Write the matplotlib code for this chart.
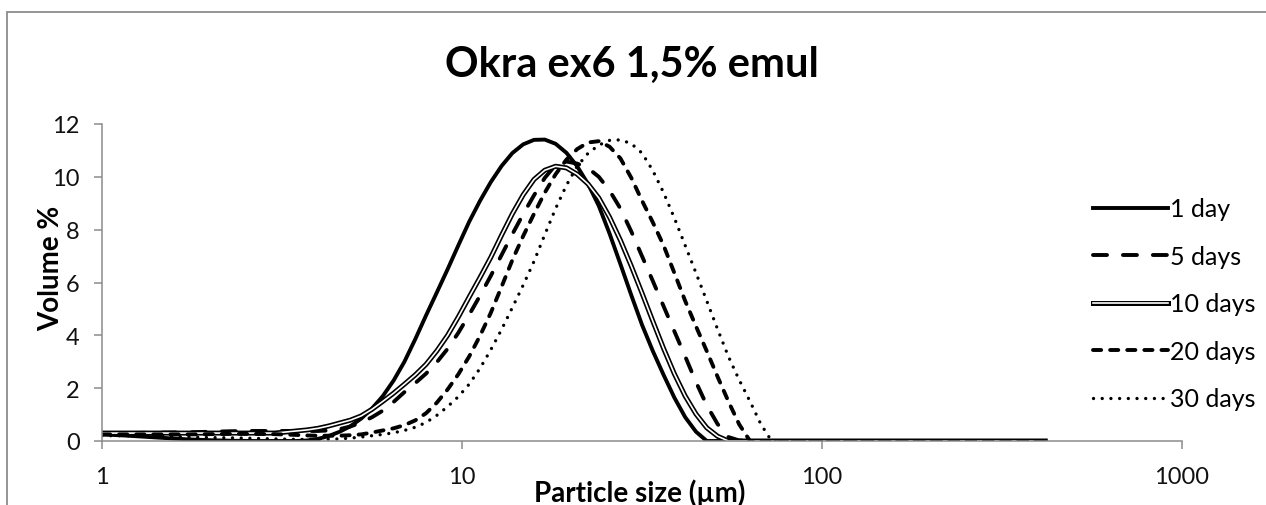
import matplotlib
matplotlib.use("Agg")
import matplotlib.pyplot as plt
from matplotlib.patches import Rectangle
from matplotlib.ticker import NullLocator

plt.rcParams['font.family'] = ['Lato', 'DejaVu Sans']

# particle size classes (µm), finer spacing where the peaks are
sizes = [1.00, 1.15, 1.32, 1.51, 1.74, 2.00, 2.29, 2.63, 3.02,
         3.467, 3.715, 3.981, 4.266, 4.571, 4.898, 5.248, 5.623, 6.026, 6.457,
         6.918, 7.413, 7.943, 8.511, 9.120, 9.772, 10.47, 11.22, 12.02, 12.88,
         13.80, 14.79, 15.85, 16.98, 18.20, 19.50, 20.89, 22.39, 23.99, 25.70,
         27.54, 29.51, 31.62, 33.88, 36.31, 38.90, 41.69, 44.67, 47.86, 51.29,
         54.95, 58.88, 63.10, 67.61, 72.44, 77.62, 83.18,
         95.50, 200.0, 416.9]

# volume % per storage time
day1 = [0.25, 0.21, 0.16, 0.11, 0.06, 0.03, 0.01, 0.0, 0.0,
        0.0, 0.02, 0.08, 0.19, 0.35, 0.56, 0.85, 1.23, 1.7, 2.29,
        3.0, 3.85, 4.75, 5.62, 6.5, 7.41, 8.3, 9.09, 9.8, 10.41,
        10.9, 11.23, 11.4, 11.41, 11.25, 10.91, 10.4, 9.73, 8.9, 7.85,
        6.7, 5.53, 4.4, 3.41, 2.5, 1.64, 0.9, 0.35, 0.0, 0.0,
        0.0, 0.0, 0.0, 0.0, 0.0, 0.0, 0.0,
        0.0, 0.0, 0.0]

day5 = [0.3, 0.3, 0.31, 0.32, 0.33, 0.35, 0.37, 0.38, 0.38,
        0.38, 0.38, 0.38, 0.40, 0.45, 0.55, 0.7, 0.9, 1.15, 1.48,
        1.85, 2.19, 2.55, 2.98, 3.49, 4.1, 4.78, 5.5, 6.25, 7.04,
        7.83, 8.59, 9.3, 9.96, 10.45, 10.58, 10.5, 10.33, 10.0, 9.48,
        8.8, 7.94, 7.0, 6.06, 5.1, 4.15, 3.2, 2.23, 1.35, 0.64,
        0.15, 0.02, 0.0, 0.0, 0.0, 0.0, 0.0,
        0.0, 0.0, 0.0]

day10 = [0.3, 0.3, 0.3, 0.3, 0.3, 0.3, 0.3, 0.3, 0.3,
         0.38, 0.42, 0.48, 0.57, 0.68, 0.79, 0.95, 1.2, 1.5, 1.81,
         2.15, 2.5, 2.9, 3.41, 4.0, 4.7, 5.45, 6.19, 6.95, 7.79,
         8.6, 9.32, 9.9, 10.25, 10.4, 10.34, 10.1, 9.73, 9.2, 8.47,
         7.6, 6.63, 5.6, 4.54, 3.5, 2.54, 1.7, 1.02, 0.5, 0.18,
         0.0, 0.0, 0.0, 0.0, 0.0, 0.0, 0.0,
         0.0, 0.0, 0.0]

day20 = [0.25, 0.25, 0.25, 0.25, 0.25, 0.26, 0.27, 0.27, 0.26,
         0.23, 0.21, 0.2, 0.2, 0.2, 0.22, 0.25, 0.32, 0.4, 0.48,
         0.6, 0.78, 1.05, 1.45, 1.95, 2.53, 3.2, 3.98, 4.85, 5.84,
         6.85, 7.76, 8.6, 9.4, 10.1, 10.65, 11.05, 11.3, 11.35, 11.14,
         10.7, 9.97, 9.1, 8.28, 7.4, 6.36, 5.3, 4.34, 3.4, 2.43,
         1.5, 0.63, 0.0, 0.0, 0.0, 0.0, 0.0,
         0.0, 0.0, 0.0]

day30 = [0.2, 0.2, 0.18, 0.17, 0.15, 0.13, 0.12, 0.1, 0.08,
         0.06, 0.06, 0.06, 0.07, 0.08, 0.11, 0.15, 0.2, 0.25, 0.31,
         0.4, 0.52, 0.7, 0.97, 1.3, 1.68, 2.15, 2.75, 3.45, 4.22,
         5.05, 5.9, 6.8, 7.81, 8.8, 9.68, 10.4, 10.89, 11.2, 11.38,
         11.4, 11.26, 10.9, 10.24, 9.4, 8.44, 7.4, 6.36, 5.3, 4.23,
         3.2, 2.31, 1.5, 0.64, 0.0, 0.0, 0.0,
         0.0, 0.0, 0.0]

labels = ['1 day', '5 days', '10 days', '20 days', '30 days']
xticks = [1, 10, 100, 1000]
yticks = [0, 2, 4, 6, 8, 10, 12]

W, H = 1266, 506
GREY = '#8c8c8c'
LW = 2.8

fig = plt.figure(figsize=(W / 100, H / 100), dpi=100)
ax = fig.add_axes([102 / W, 1 - 442 / H, 1080 / W, 317 / H])

l1, = ax.plot(sizes, day1, color='black', lw=LW, solid_joinstyle='round')
l5, = ax.plot(sizes, day5, color='black', lw=LW, ls=(0, (3.6, 4.1)),
              dash_capstyle='round')
# double line: thick black with a thin white core
l10a, = ax.plot(sizes, day10, color='black', lw=3.6, solid_joinstyle='round')
l10b, = ax.plot(sizes, day10, color='white', lw=1.2, solid_joinstyle='round')
l20, = ax.plot(sizes, day20, color='black', lw=LW, ls=(0, (2.1, 2.3)),
               dash_capstyle='round')
l30, = ax.plot(sizes, day30, color='black', lw=2.4, ls=(0, (0.01, 2.6)),
               dash_capstyle='round')

ax.set_xscale('log')
ax.set_xlim(1, 1000)
ax.set_ylim(0, 12)
ax.set_xticks(xticks)
ax.set_xticklabels([str(t) for t in xticks])
ax.xaxis.set_minor_locator(NullLocator())
ax.set_yticks(yticks)

for s in ['top', 'right']:
    ax.spines[s].set_visible(False)
for s in ['left', 'bottom']:
    ax.spines[s].set_color(GREY)
    ax.spines[s].set_linewidth(1.1)
ax.tick_params(direction='out', length=6, width=1.1, color=GREY,
               labelsize=17, labelcolor='#111111')
ax.tick_params(axis='y', pad=10)
ax.tick_params(axis='x', pad=12)

ax.set_xlabel('Particle size (µm)', fontsize=20, fontweight='bold', va='center')
ax.xaxis.set_label_coords(0.498, -0.163)
ax.set_ylabel('Volume %', fontsize=20, fontweight='bold', va='center')
ax.yaxis.set_label_coords(-0.047, 0.549)

fig.text(632 / W, 1 - 65 / H, 'Okra ex6 1,5% emul', ha='center', va='center',
         fontsize=30, fontweight='bold')

ax.legend([l1, l5, (l10a, l10b), l20, l30], labels,
          loc='center left', bbox_to_anchor=(1093 / W, 1 - 305 / H),
          bbox_transform=fig.transFigure, frameon=False, fontsize=18,
          handlelength=3.0, handletextpad=0.1, labelspacing=0.98,
          borderpad=0, borderaxespad=0)

# chart area outline
fig.add_artist(Rectangle((7 / W, -0.5), 2, 0.5 + 1 - 13 / H,
                         transform=fig.transFigure, fill=False,
                         edgecolor=GREY, lw=1.3, clip_on=False))

fig.savefig('out.png', dpi=100)
